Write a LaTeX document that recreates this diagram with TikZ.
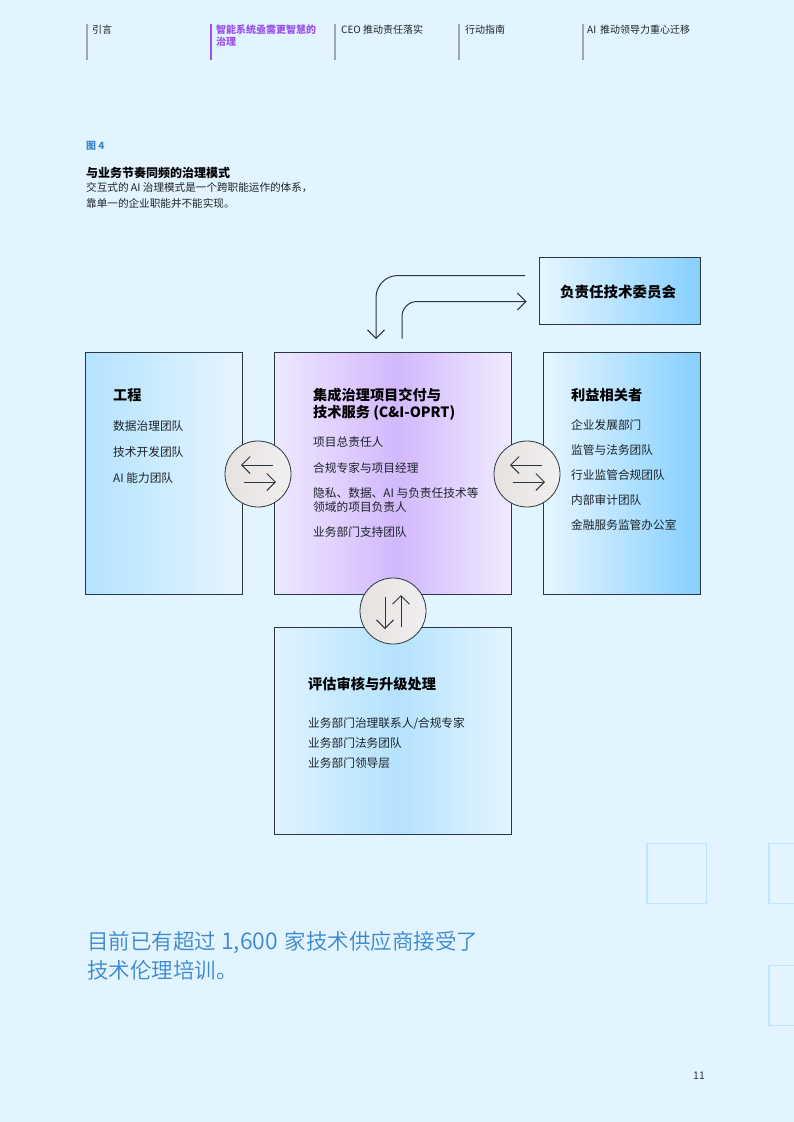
\documentclass[tikz,border=0pt]{standalone}
\usepackage{fontspec}
\setmainfont{Noto Sans CJK SC}
\newfontfamily\lightcjk{Noto Sans CJK SC DemiLight}
\usetikzlibrary{arrows.meta}
\definecolor{bgc}{HTML}{E2F4FF}
\definecolor{ink}{HTML}{1C2328}
\definecolor{frame}{HTML}{2A3640}
\definecolor{navline}{HTML}{A0A8AD}
\definecolor{purp}{HTML}{9B51F0}
\definecolor{bluet}{HTML}{3A88CF}
\definecolor{deco}{HTML}{C0E4FF}
\definecolor{aL}{HTML}{B4E3FF}\definecolor{aR}{HTML}{E6F5FF}
\definecolor{bL}{HTML}{E6F6FF}\definecolor{bR}{HTML}{85CFFF}
\definecolor{cL}{HTML}{EEE8FF}\definecolor{cM}{HTML}{D2B8FD}\definecolor{cR}{HTML}{F0EBFF}
\definecolor{dL}{HTML}{DFF3FF}\definecolor{dM}{HTML}{B5E2FE}\definecolor{dR}{HTML}{E3F5FF}
\definecolor{eL}{HTML}{E6E2E0}\definecolor{eR}{HTML}{F1EFEF}
\pgfdeclarehorizontalshading{engshade}{100bp}{color(0bp)=(aL);color(25bp)=(aL);color(75bp)=(aR);color(100bp)=(aR)}
\pgfdeclarehorizontalshading{stakeshade}{100bp}{color(0bp)=(bL);color(25bp)=(bL);color(75bp)=(bR);color(100bp)=(bR)}
\pgfdeclarehorizontalshading{coreshade}{100bp}{color(0bp)=(cL);color(25bp)=(cL);color(51bp)=(cM);color(75bp)=(cR);color(100bp)=(cR)}
\pgfdeclarehorizontalshading{reviewshade}{100bp}{color(0bp)=(dL);color(25bp)=(dL);color(51bp)=(dM);color(75bp)=(dR);color(100bp)=(dR)}
\pgfdeclarehorizontalshading{discshade}{100bp}{color(0bp)=(eL);color(25bp)=(eL);color(75bp)=(eR);color(100bp)=(eR)}
\tikzset{
  panel/.style={draw=frame,line width=1.1pt,inner sep=0pt,outer sep=0pt},
  disc/.style={circle,draw=frame,line width=.8pt,minimum size=66,inner sep=0pt,shading=discshade},
  navrule/.style={navline,line width=1.1pt},
  navtxt/.style={anchor=base west,inner sep=0pt,text=ink,font=\fontsize{10}{12.5}\selectfont,align=left},
  bodytxt/.style={anchor=base west,inner sep=0pt,text=ink,font=\fontsize{11.7}{14}\selectfont,align=left},
  headtxt/.style={anchor=base west,inner sep=0pt,text=black,font=\bfseries\fontsize{14.2}{17}\selectfont,align=left},
  flow/.style={draw=frame,line width=1pt,-{Straight Barb[length=8.5,width=17,line width=1pt]}},
  decosq/.style={draw=deco,line width=1.6pt},
}
\begin{document}
\begin{tikzpicture}[x=1pt,y=-1pt]
\useasboundingbox (0,0) rectangle (794,1122);
\fill[bgc] (0,0) rectangle (794,1122);
% decorative squares
\draw[decosq] (647,843.5) rectangle (706.5,903.5);
\draw[decosq] (769,843.5) rectangle (830,903.5);
\draw[decosq] (769,965.5) rectangle (830,1025.5);
% navigation
\draw[navrule] (87,23.5) -- (87,60);
\draw[purp,line width=1.1pt] (211,23.5) -- (211,60);
\draw[navrule] (335,23.5) -- (335,60);
\draw[navrule] (459,23.5) -- (459,60);
\draw[navrule] (583,23.5) -- (583,60);
\node[navtxt] (n1) at (92,33.3) {引言};
\node[navtxt,text=purp,font=\bfseries\fontsize{10}{12.5}\selectfont] (n2) at (216,45.8) {智能系统亟需更智慧的\\治理};
\node[navtxt] (n3) at (341,33.3) {CEO 推动责任落实};
\node[navtxt] (n4) at (465,33.3) {行动指南};
\node[navtxt] (n5) at (587,33.3) {AI\hspace{4pt}推动领导力重心迁移};
% heading
\node[navtxt,text=bluet,font=\bfseries\fontsize{10}{12}\selectfont] (fig) at (86,149) {图 4};
\node[navtxt,text=black,font=\bfseries\fontsize{12}{14}\selectfont] (ttl) at (86,177) {与业务节奏同频的治理模式};
\node[navtxt,font=\fontsize{10.6}{15.8}\selectfont] (sub) at (86,207) {交互式的 AI 治理模式是一个跨职能运作的体系，\\靠单一的企业职能并不能实现。};
% boxes
\node[panel,shading=stakeshade,minimum width=161,minimum height=67] (comm) at (620,291) {};
\node[panel,shading=engshade,minimum width=157,minimum height=242] (eng) at (164,473.5) {};
\node[panel,shading=coreshade,minimum width=237,minimum height=242] (core) at (393,473.5) {};
\node[panel,shading=stakeshade,minimum width=157,minimum height=242] (stake) at (622,473.5) {};
\node[panel,shading=reviewshade,minimum width=237,minimum height=207] (review) at (393,731) {};
% committee connectors
\coordinate (c1s) at (525,275.5);
\coordinate (c1e) at (376,339);
\coordinate (c2s) at (402,338.5);
\coordinate (c2e) at (526.5,301.5);
\draw[flow,rounded corners=22] (c1s) -| (c1e);
\draw[flow,rounded corners=15] (c2s) |- (c2e);
% discs
\node[disc] (dl) at (258,474) {};
\node[disc] (dr) at (527,474) {};
\node[disc] (db) at (393,611) {};
\coordinate (dla) at (273,465);\coordinate (dlb) at (241,465);
\coordinate (dlc) at (244,482);\coordinate (dld) at (276,482);
\coordinate (dra) at (542,465);\coordinate (drb) at (510,465);
\coordinate (drc) at (513,482);\coordinate (drd) at (545,482);
\coordinate (dba) at (385,597);\coordinate (dbb) at (385,629);
\coordinate (dbc) at (401,627);\coordinate (dbd) at (401,595);
\draw[flow] (dla) -- (dlb);
\draw[flow] (dlc) -- (dld);
\draw[flow] (dra) -- (drb);
\draw[flow] (drc) -- (drd);
\draw[flow] (dba) -- (dbb);
\draw[flow] (dbc) -- (dbd);
% box text
\node[headtxt,font=\bfseries\fontsize{14.5}{17}\selectfont] (ct) at (560,297.2) {负责任技术委员会};
\node[headtxt] (e0) at (113,400.2) {工程};
\node[bodytxt] (e1) at (113,430.3) {数据治理团队};
\node[bodytxt] (e2) at (113,456.3) {技术开发团队};
\node[bodytxt] (e3) at (113,482.3) {AI 能力团队};
\node[headtxt] (k0) at (313,417.2) {集成治理项目交付与\\技术服务 (C\&I-OPRT)};
\node[bodytxt] (k1) at (313,446.3) {项目总责任人};
\node[bodytxt] (k2) at (313,472.3) {合规专家与项目经理};
\node[bodytxt] (k3) at (313,511.3) {隐私、数据、AI 与负责任技术等\\领域的项目负责人};
\node[bodytxt] (k4) at (313,536.3) {业务部门支持团队};
\node[headtxt] (s0) at (571,400.2) {利益相关者};
\node[bodytxt] (s1) at (571,429.3) {企业发展部门};
\node[bodytxt] (s2) at (571,454.3) {监管与法务团队};
\node[bodytxt] (s3) at (571,479.3) {行业监管合规团队};
\node[bodytxt] (s4) at (571,504.3) {内部审计团队};
\node[bodytxt] (s5) at (571,529.3) {金融服务监管办公室};
\node[headtxt] (r0) at (308,689.2) {评估审核与升级处理};
\node[bodytxt] (r1) at (308,727.3) {业务部门治理联系人/合规专家};
\node[bodytxt] (r2) at (308,747.8) {业务部门法务团队};
\node[bodytxt] (r3) at (308,767.3) {业务部门领导层};
% quote and page number
\node[anchor=base west,inner sep=0pt,text=bluet,align=left,font=\lightcjk\fontsize{21.5}{29.5}\selectfont] (q) at (87,978.5) {目前已有超过\hspace{5pt}{\fontsize{23}{29.5}\selectfont 1,600}\hspace{7pt}家技术供应商接受了\\技术伦理培训。};
\node[anchor=base west,inner sep=0pt,text=frame,font=\fontsize{10.5}{12}\selectfont] (pg) at (693,1079) {11};
\end{tikzpicture}
\end{document}
